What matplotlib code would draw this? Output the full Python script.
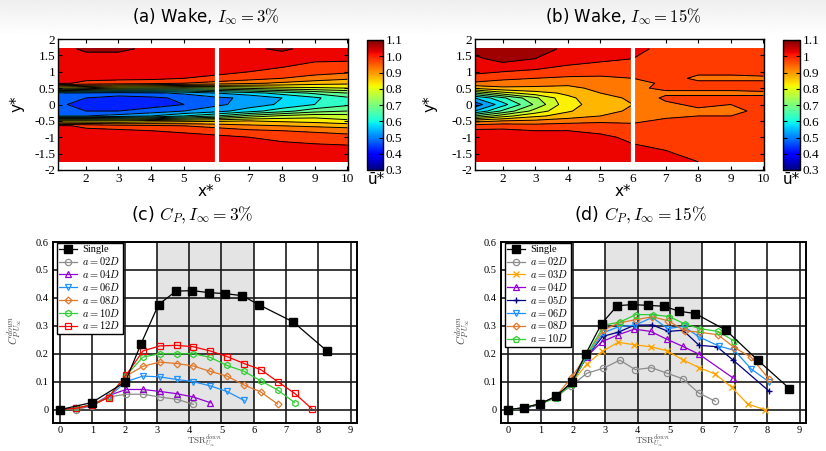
import numpy as np
import matplotlib
matplotlib.use('Agg')
import matplotlib.pyplot as pp
from matplotlib import cm, colors

SERIF = 'Liberation Serif'
SANS = 'DejaVu Sans'
pp.rcParams['mathtext.fontset'] = 'cm'
pp.rcParams['font.family'] = SERIF

# ---- wake maps: mean streamwise velocity u* ----
x_grid = [1.15, 2, 3, 4, 5, 6, 7, 8, 9, 10]
y_grid = [-1.75, -1.4, -1.0, -0.8, -0.65, -0.5, -0.35, -0.2, 0, 0.2, 0.35, 0.5, 0.65, 0.8, 1.0, 1.4, 1.7]

# one list per x station, bottom to top
u_ti3 = [
    [1.02, 1.02, 1.02, 1.02, 1.01, 0.80, 0.50, 0.47, 0.46, 0.47, 0.50, 0.80, 1.01, 1.02, 1.02, 1.02, 1.03],
    [1.02, 1.02, 1.02, 1.01, 0.99, 0.80, 0.50, 0.45, 0.43, 0.45, 0.49, 0.78, 0.99, 1.01, 1.02, 1.03, 1.06],
    [1.02, 1.02, 1.02, 1.01, 0.97, 0.80, 0.52, 0.45, 0.42, 0.43, 0.48, 0.75, 0.98, 1.01, 1.02, 1.03, 1.06],
    [1.02, 1.02, 1.02, 1.00, 0.96, 0.82, 0.55, 0.47, 0.43, 0.44, 0.49, 0.74, 0.97, 1.01, 1.02, 1.02, 1.04],
    [1.02, 1.02, 1.02, 0.99, 0.95, 0.83, 0.60, 0.50, 0.45, 0.46, 0.51, 0.73, 0.95, 1.00, 1.02, 1.02, 1.03],
    [1.02, 1.02, 1.01, 0.98, 0.93, 0.84, 0.65, 0.53, 0.49, 0.49, 0.55, 0.74, 0.93, 0.99, 1.01, 1.02, 1.04],
    [1.02, 1.02, 1.00, 0.96, 0.91, 0.85, 0.72, 0.58, 0.52, 0.51, 0.58, 0.76, 0.91, 0.97, 1.00, 1.02, 1.04],
    [1.02, 1.02, 0.99, 0.95, 0.90, 0.84, 0.76, 0.63, 0.56, 0.55, 0.62, 0.78, 0.89, 0.95, 0.99, 1.02, 1.06],
    [1.02, 1.02, 0.98, 0.94, 0.89, 0.83, 0.78, 0.68, 0.60, 0.59, 0.66, 0.79, 0.87, 0.93, 0.97, 1.01, 1.03],
    [1.02, 1.02, 0.97, 0.93, 0.88, 0.81, 0.77, 0.70, 0.64, 0.64, 0.70, 0.80, 0.86, 0.91, 0.96, 1.01, 1.02],
]
u_ti15 = [
    [1.02, 1.02, 1.02, 1.01, 0.97, 0.88, 0.70, 0.55, 0.47, 0.55, 0.70, 0.86, 0.94, 0.98, 1.01, 1.04, 1.07],
    [1.02, 1.02, 1.02, 1.01, 0.98, 0.90, 0.78, 0.66, 0.58, 0.64, 0.78, 0.89, 0.93, 0.96, 1.00, 1.07, 1.08],
    [1.02, 1.02, 1.02, 1.00, 0.97, 0.91, 0.84, 0.77, 0.71, 0.74, 0.83, 0.89, 0.92, 0.95, 0.99, 1.05, 1.07],
    [1.02, 1.02, 1.02, 1.00, 0.97, 0.93, 0.87, 0.845, 0.835, 0.84, 0.86, 0.89, 0.91, 0.94, 0.98, 1.02, 1.04],
    [1.02, 1.02, 1.01, 0.99, 0.97, 0.94, 0.90, 0.88, 0.87, 0.88, 0.90, 0.91, 0.92, 0.94, 0.97, 1.01, 1.02],
    [1.02, 1.01, 0.99, 0.98, 0.96, 0.94, 0.92, 0.91, 0.90, 0.91, 0.93, 0.94, 0.93, 0.95, 0.97, 1.00, 1.01],
    [1.01, 1.00, 0.98, 0.97, 0.96, 0.96, 0.94, 0.93, 0.94, 0.96, 0.94, 0.96, 0.96, 0.97, 0.97, 0.99, 0.99],
    [1.00, 0.98, 0.97, 0.97, 0.96, 0.96, 0.95, 0.94, 0.96, 0.96, 0.94, 0.96, 0.96, 0.94, 0.96, 0.98, 0.98],
    [0.99, 0.98, 0.97, 0.97, 0.96, 0.96, 0.95, 0.94, 0.95, 0.96, 0.94, 0.96, 0.96, 0.94, 0.96, 0.98, 0.98],
    [0.99, 0.98, 0.97, 0.97, 0.97, 0.96, 0.96, 0.96, 0.96, 0.96, 0.94, 0.97, 0.96, 0.94, 0.97, 0.98, 0.98],
]

wake_xticks = [2, 3, 4, 5, 6, 7, 8, 9, 10]
wake_yticks = [-2, -1.5, -1, -0.5, 0, 0.5, 1, 1.5, 2]
wake_ylabels = ['-2', '-1.5', '-1', '-0.5', '0', '0.5', '1', '1.5', '2']
cb_ticks = [0.3, 0.4, 0.5, 0.6, 0.7, 0.8, 0.9, 1.0, 1.1]
cb_labels = ['0.3', '0.4', '0.5', '0.6', '0.7', '0.8', '0.9', '1', '1.1']

# ---- power coefficient curves ----
# I = 3%
c3_single_x = [0, 0.98, 2.02, 2.51, 3.05, 3.59, 4.09, 4.6, 5.12, 5.64, 6.15, 7.22, 8.28]
c3_single_y = [0, 0.025, 0.099, 0.236, 0.376, 0.424, 0.426, 0.419, 0.415, 0.408, 0.376, 0.314, 0.209]
c3_tsr = [0, 0.5, 0.99, 1.5, 2.04, 2.57, 3.09, 3.61, 4.13, 4.65, 5.17, 5.7, 6.22, 6.74, 7.27, 7.8]
c3_02 = [0, 0.0, 0.013, 0.045, 0.055, 0.055, 0.045, 0.037, 0.019]
c3_04 = [0, 0.005, 0.015, 0.05, 0.072, 0.072, 0.065, 0.057, 0.045, 0.025]
c3_06 = [0, 0.005, 0.017, 0.045, 0.1, 0.12, 0.117, 0.108, 0.1, 0.085, 0.065, 0.033]
c3_08 = [0, 0.005, 0.017, 0.045, 0.12, 0.155, 0.17, 0.165, 0.156, 0.137, 0.12, 0.088, 0.063, 0.02]
c3_10 = [0, 0.005, 0.017, 0.045, 0.122, 0.188, 0.2, 0.2, 0.2, 0.187, 0.158, 0.137, 0.103, 0.07, 0.025]
c3_12 = [0, 0.005, 0.017, 0.043, 0.123, 0.21, 0.228, 0.23, 0.225, 0.21, 0.19, 0.165, 0.143, 0.1, 0.058, 0.003]

# I = 15%
c15_single_x = [0, 0.49, 0.98, 1.47, 1.98, 2.39, 2.89, 3.37, 3.84, 4.32, 4.82, 5.28, 5.78, 6.73, 7.71, 8.69]
c15_single_y = [0, 0.007, 0.021, 0.047, 0.099, 0.198, 0.308, 0.372, 0.376, 0.373, 0.37, 0.352, 0.344, 0.284, 0.177, 0.075]
c15_02_x = [0, 0.49, 0.98, 1.47, 1.95, 2.43, 2.94, 3.45, 3.93, 4.42, 4.92, 5.4, 5.88, 6.4]
c15_02_y = [0, 0.005, 0.02, 0.045, 0.085, 0.13, 0.148, 0.177, 0.143, 0.15, 0.13, 0.11, 0.06, 0.03]
c15_03_x = [0, 0.49, 0.98, 1.47, 1.96, 2.43, 2.9, 3.4, 3.9, 4.4, 4.9, 5.4, 5.9, 6.4, 6.9, 7.4, 7.92]
c15_03_y = [0, 0.005, 0.02, 0.045, 0.095, 0.163, 0.208, 0.241, 0.232, 0.225, 0.211, 0.178, 0.15, 0.127, 0.08, 0.02, 0.0]
c15_04_x = [0, 0.49, 0.98, 1.47, 1.96, 2.43, 2.9, 3.4, 3.9, 4.4, 4.9, 5.4, 5.9, 6.95]
c15_04_y = [0, 0.005, 0.018, 0.045, 0.095, 0.19, 0.243, 0.268, 0.288, 0.28, 0.252, 0.226, 0.198, 0.113]
c15_05_x = [0, 0.49, 0.98, 1.47, 1.96, 2.43, 2.92, 3.4, 3.9, 4.45, 4.95, 5.4, 5.9, 6.45, 6.95, 8.05]
c15_05_y = [0, 0.005, 0.02, 0.045, 0.095, 0.19, 0.262, 0.277, 0.302, 0.303, 0.28, 0.284, 0.23, 0.225, 0.177, 0.067]
c15_06_x = [0, 0.49, 0.98, 1.47, 1.96, 2.43, 2.94, 3.42, 3.92, 4.45, 4.93, 5.42, 5.9, 6.5, 6.99, 7.51, 8.05]
c15_06_y = [0, 0.005, 0.02, 0.045, 0.095, 0.19, 0.275, 0.297, 0.302, 0.33, 0.29, 0.298, 0.26, 0.228, 0.212, 0.145, 0.1]
c15_08_x = [0, 0.49, 0.98, 1.47, 1.96, 2.45, 2.94, 3.42, 3.94, 4.45, 4.95, 5.45, 5.92, 6.48, 6.99, 7.51, 8.05]
c15_08_y = [0, 0.006, 0.02, 0.047, 0.115, 0.2, 0.285, 0.31, 0.322, 0.332, 0.318, 0.282, 0.277, 0.268, 0.222, 0.187, 0.11]
c15_10_x = [0, 0.49, 0.98, 1.47, 1.96, 2.45, 2.97, 3.45, 3.94, 4.47, 4.97, 5.45, 5.92, 6.48, 6.99]
c15_10_y = [0, 0.006, 0.02, 0.042, 0.093, 0.2, 0.303, 0.313, 0.34, 0.34, 0.333, 0.307, 0.29, 0.28, 0.245]

cp_xticks = list(range(10))
cp_yticks = [0, 0.1, 0.2, 0.3, 0.4, 0.5, 0.6]
cp_ylabels = ['0', '0.1', '0.2', '0.3', '0.4', '0.5', '0.6']

W, H = 826, 451
fig = pp.figure(figsize=(W/100, H/100), dpi=100)


def box(l, t, r, b):
    return [l/W, 1 - b/H, (r - l)/W, (b - t)/H]


# faint slide gradient at the top
bg = fig.add_axes(box(0, 0, W, 36), zorder=-10)
bg.imshow(np.linspace(0.935, 1.0, 50).reshape(-1, 1), cmap='gray', vmin=0, vmax=1, aspect='auto')
bg.axis('off')

# ---- wake panels ----
levels = np.round(np.arange(0.3, 1.1001, 0.05), 2)
norm = colors.Normalize(0.3, 1.1)
X, Y = np.meshgrid(x_grid, y_grid)

wake_panels = [
    (u_ti3, box(58, 39, 348, 170), box(367, 40, 383, 170), 206, r'(a) Wake, $I_\infty = 3\%$', 17, 376),
    (u_ti15, box(475, 39, 764, 170), box(783, 40, 800, 170), 623, r'(b) Wake, $I_\infty = 15\%$', 430, 791),
]
for u, abox, cbox, xc, title, ylx, ulx in wake_panels:
    ax = fig.add_axes(abox)
    Z = np.array(u).T
    ax.contourf(X, Y, Z, levels=levels, cmap='jet', norm=norm)
    ax.contour(X, Y, Z, levels=levels, colors='k', linewidths=0.7)
    ax.axvline(6, color='w', lw=3)
    ax.set_xlim(1.15, 10.02)
    ax.set_ylim(-2, 2)
    ax.set_xticks(wake_xticks, [str(t) for t in wake_xticks], fontsize=9.5)
    ax.set_yticks(wake_yticks, wake_ylabels, fontsize=9.5)
    ax.tick_params(direction='in', top=True, right=True, length=3, width=0.8, pad=2)
    for s in ax.spines.values():
        s.set_linewidth(1.0)

    cax = fig.add_axes(cbox)
    cb = fig.colorbar(cm.ScalarMappable(norm=norm, cmap='jet'), cax=cax)
    cb.set_ticks(cb_ticks)
    cax.set_yticklabels(cb_labels, fontsize=9.5)
    cax.tick_params(direction='in', left=True, right=True, length=3, width=0.8, pad=2)
    cb.outline.set_linewidth(1.0)

    fig.text(xc/W, 1 - 17/H, title, ha='center', va='center', fontsize=12, family=SANS)
    fig.text(xc/W, 1 - 192/H, 'x*', ha='center', va='center', fontsize=11, family=SANS)
    fig.text(ylx/W, 1 - 104/H, 'y*', ha='center', va='center', fontsize=11, rotation=90, family=SANS)
    fig.text(ulx/W, 1 - 180/H, 'ū*', ha='center', va='center', fontsize=11, family=SANS)

# ---- power coefficient panels ----
ms = 4.5

cp_panels = [
    (box(53, 242, 357, 423), 192, r'(c) $C_P, I_\infty = 3\%$', 15, 205, [
        (c3_single_x, c3_single_y, 's', 'k', 'Single'),
        (c3_tsr[:len(c3_02)], c3_02, 'o', '#8c8c8c', r'$a = 02D$'),
        (c3_tsr[:len(c3_04)], c3_04, '^', '#9400d3', r'$a = 04D$'),
        (c3_tsr[:len(c3_06)], c3_06, 'v', '#1e90ff', r'$a = 06D$'),
        (c3_tsr[:len(c3_08)], c3_08, 'D', '#e0782a', r'$a = 08D$'),
        (c3_tsr[:len(c3_10)], c3_10, 'h', '#32cd32', r'$a = 10D$'),
        (c3_tsr[:len(c3_12)], c3_12, 's', '#ff0000', r'$a = 12D$'),
    ]),
    (box(501, 242, 806, 423), 640, r'(d) $C_P, I_\infty = 15\%$', 463, 653, [
        (c15_single_x, c15_single_y, 's', 'k', 'Single'),
        (c15_02_x, c15_02_y, 'o', '#8c8c8c', r'$a = 02D$'),
        (c15_03_x, c15_03_y, 'x', '#ffa500', r'$a = 03D$'),
        (c15_04_x, c15_04_y, '^', '#9400d3', r'$a = 04D$'),
        (c15_05_x, c15_05_y, '+', '#000080', r'$a = 05D$'),
        (c15_06_x, c15_06_y, 'v', '#1e90ff', r'$a = 06D$'),
        (c15_08_x, c15_08_y, 'D', '#e0782a', r'$a = 08D$'),
        (c15_10_x, c15_10_y, 'p', '#32cd32', r'$a = 10D$'),
    ]),
]
for abox, xc, title, ylx, xlx, series in cp_panels:
    ax = fig.add_axes(abox)
    ax.axvspan(3, 6, color='#e4e4e4', lw=0, zorder=0.2)
    ax.set_axisbelow(True)
    ax.grid(True, color='#1a1a1a', lw=1.2)
    for x, y, m, c, lab in series:
        if lab == 'Single':
            ax.plot(x, y, marker=m, color=c, ms=6, lw=0.9, label=lab, zorder=3)
        elif m in ('x', '+'):
            ax.plot(x, y, marker=m, color=c, ms=5, lw=0.9, mew=1.0, label=lab)
        else:
            mk = ms - 1 if m == 'D' else ms
            ax.plot(x, y, marker=m, color=c, mfc='none', ms=mk, lw=0.9, mew=0.9, label=lab)
    ax.set_xlim(-0.22, 9.2)
    ax.set_ylim(-0.048, 0.6)
    ax.set_xticks(cp_xticks, [str(t) for t in cp_xticks], fontsize=7.5)
    ax.set_yticks(cp_yticks, cp_ylabels, fontsize=7.5)
    ax.tick_params(axis='y', length=0, pad=3)
    ax.tick_params(axis='x', length=0, pad=2)
    for s in ax.spines.values():
        s.set_linewidth(1.4)
    leg = ax.legend(loc='upper left', bbox_to_anchor=(0.012, 0.997), prop={'size': 7.5},
                    labelspacing=0.08, handlelength=1.7, handletextpad=0.5, borderpad=0.25,
                    borderaxespad=0.0, fancybox=False, framealpha=1, edgecolor='k')
    leg.get_frame().set_linewidth(1.0)

    fig.text(xc/W, 1 - 215/H, title, ha='center', va='center', fontsize=12.5, family=SANS)
    fig.text(ylx/W, 1 - 330/H, r'$C_{P\,U_\infty}^{down}$', ha='center', va='center', fontsize=8,
             rotation=90, color='#444444')
    fig.text(xlx/W, 1 - 450.5/H, r'$\mathrm{TSR}_{U_\infty}^{down}$', ha='center', va='bottom', fontsize=6.5,
             color='#444444')

fig.savefig('out.png', dpi=100)
